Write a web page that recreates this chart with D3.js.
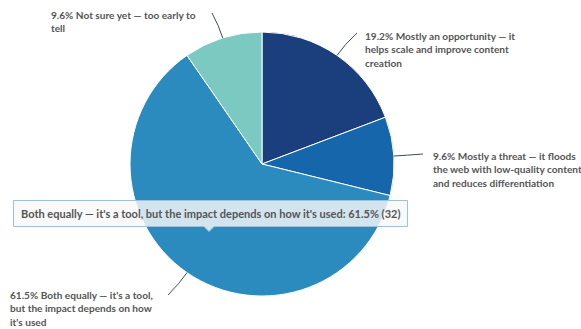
<!DOCTYPE html>
<html>
<head>
<meta charset="utf-8">
<script src="https://cdn.jsdelivr.net/npm/d3@7/dist/d3.min.js"></script>
<style>
  html, body { margin: 0; padding: 0; background: #ffffff; }
  svg { display: block; }
  .lbl { font-family: Lato, "Open Sans", sans-serif; font-weight: 700; font-size: 10.1px; fill: #555555; }
  .tip { font-family: Lato, "Open Sans", sans-serif; font-weight: 700; font-size: 11px; fill: #555555; }
</style>
</head>
<body>
<svg id="chart" width="581" height="329"></svg>
<script>
// Survey answers, clockwise from 12 o'clock
const categories = [
  "Mostly an opportunity — it helps scale and improve content creation",
  "Mostly a threat — it floods the web with low-quality content and reduces differentiation",
  "Both equally — it's a tool, but the impact depends on how it's used",
  "Not sure yet — too early to tell"
];
const counts = [10, 5, 32, 5];
const percents = [19.2, 9.6, 61.5, 9.6];
const colors = ["#1b3f7c", "#1666ab", "#2b8bbf", "#7cc9c1"];

// Wrapped data-label text, one array of lines per slice
const labelLines = [
  ["19.2% Mostly an opportunity — it", "helps scale and improve content", "creation"],
  ["9.6% Mostly a threat — it floods", "the web with low-quality content", "and reduces differentiation"],
  ["61.5% Both equally — it's a tool,", "but the impact depends on how", "it's used"],
  ["9.6% Not sure yet — too early to", "tell"]
];

// Data-label layout: text origin and connector start
const labelLayout = [
  { x: 365, y: 40, cx: 357, cy: 33 },
  { x: 433, y: 160, cx: 423, cy: 154 },
  { x: 10, y: 299, cx: 168, cy: 295 },
  { x: 51, y: 19, cx: 212, cy: 13 }
];
const lineHeight = 13.3;

const hoverIndex = 2;

const svg = d3.select("#chart");
const cx = 262, cy = 164, r = 132;

const pie = d3.pie().sort(null).value(d => d)(counts);
const arc = d3.arc().innerRadius(0).outerRadius(r);

const g = svg.append("g").attr("transform", `translate(${cx},${cy})`);

g.selectAll("path.slice")
  .data(pie)
  .join("path")
  .attr("class", "slice")
  .attr("d", arc)
  .attr("fill", (d, i) => colors[i])
  .attr("stroke", "#ffffff")
  .attr("stroke-width", 1)
  .attr("stroke-linejoin", "round");

// Connectors from each label to the middle of its slice's rim
const pointAt = (a, rad) => [cx + rad * Math.sin(a), cy - rad * Math.cos(a)];
svg.append("g").selectAll("path")
  .data(pie)
  .join("path")
  .attr("d", (d, i) => {
    const mid = (d.startAngle + d.endAngle) / 2;
    const edge = pointAt(mid, r);
    const ctrl = pointAt(mid, r + 13);
    const L = labelLayout[i];
    return `M${L.cx},${L.cy} Q${ctrl[0]},${ctrl[1]} ${edge[0]},${edge[1]}`;
  })
  .attr("fill", "none")
  .attr("stroke", "#3e4a5e")
  .attr("stroke-width", 1);

// Data labels
const labels = svg.append("g");
labelLines.forEach((lines, i) => {
  const L = labelLayout[i];
  const t = labels.append("text").attr("class", "lbl");
  lines.forEach((s, k) => {
    t.append("tspan").attr("x", L.x).attr("y", L.y + k * lineHeight).text(s);
  });
});

// Hover tooltip for the largest slice
const tip = svg.append("g");
const tipText = `${categories[hoverIndex]}: ${percents[hoverIndex]}% (${counts[hoverIndex]})`;
const bx = 13.5, by = 200.5, bw = 394, bh = 26, px = 209, ph = 5;
tip.append("path")
  .attr("d", `M${bx},${by} H${bx + bw} V${by + bh} H${px + ph} L${px},${by + bh + ph} L${px - ph},${by + bh} H${bx} Z`)
  .attr("fill", "rgba(248,248,248,0.82)")
  .attr("stroke", "#9fc0d6")
  .attr("stroke-width", 1);
tip.append("text")
  .attr("class", "tip")
  .attr("x", 21)
  .attr("y", 218)
  .text(tipText);
</script>
</body>
</html>
